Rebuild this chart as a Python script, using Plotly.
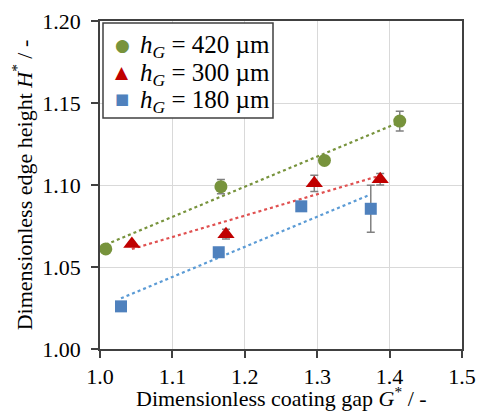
import numpy as np
import plotly.graph_objects as go

# data
g420 = [1.008, 1.167, 1.310, 1.414]
h420 = [1.061, 1.099, 1.115, 1.139]
e420 = [0.001, 0.0043, 0.002, 0.006]

g300 = [1.044, 1.174, 1.296, 1.387]
h300 = [1.064, 1.070, 1.101, 1.1035]
e300 = [0.001, 0.003, 0.005, 0.0035]

g180 = [1.029, 1.164, 1.278, 1.374]
h180 = [1.026, 1.059, 1.087, 1.0855]
e180 = [0.002, 0.002, 0.002, 0.0143]

names = ["<i>h</i><sub><i>G</i></sub> = 420 µm",
         "<i>h</i><sub><i>G</i></sub> = 300 µm",
         "<i>h</i><sub><i>G</i></sub> = 180 µm"]

FONT = "Liberation Serif"
series = [
    (g420, h420, e420, "#77933C", "circle", 13, "#77933C"),
    (g300, h300, e300, "#C00000", "triangle-up", 15, "#E05050"),
    (g180, h180, e180, "#4F81BD", "square", 12, "#5B9BD5"),
]
glyphs = [("●", 17), ("▲", 17), ("■", 15)]

fig = go.Figure()
for (gx, hy, ee, col, sym, sz, lcol) in series:
    p = np.polyfit(gx, hy, 1)
    xs = np.array([min(gx), max(gx)])
    fig.add_trace(go.Scatter(x=xs, y=np.polyval(p, xs), mode="lines",
                             line=dict(color=lcol, width=2.2, dash="dot"),
                             showlegend=False, hoverinfo="skip"))
for (gx, hy, ee, col, sym, sz, lcol), nm in zip(series, names):
    fig.add_trace(go.Scatter(x=gx, y=hy, mode="markers", name=nm,
                             marker=dict(color=col, symbol=sym, size=sz),
                             error_y=dict(type="data", array=ee, color="#808080",
                                          thickness=1.5, width=4),
                             showlegend=False))

tf = dict(family=FONT, size=22, color="#000000")
fig.update_layout(
    width=478, height=412,
    margin=dict(l=100, r=16, t=21, b=63),
    paper_bgcolor="white", plot_bgcolor="white",
    font=tf,
    showlegend=False,
    xaxis=dict(range=[1.0, 1.5], tickvals=[1.0, 1.1, 1.2, 1.3, 1.4, 1.5],
               ticktext=["1.0", "1.1", "1.2", "1.3", "1.4", "1.5"],
               tickfont=tf, automargin=False,
               showgrid=True, gridcolor="#D9D9D9", gridwidth=1,
               showline=True, linecolor="#404040", linewidth=1.5, mirror=True,
               ticks="outside", ticklen=7, tickcolor="#404040", tickwidth=1.5,
               zeroline=False),
    yaxis=dict(range=[1.0, 1.2], tickvals=[1.0, 1.05, 1.10, 1.15, 1.20],
               ticktext=["1.00", "1.05", "1.10", "1.15", "1.20"],
               tickfont=tf, automargin=False,
               showgrid=True, gridcolor="#D9D9D9", gridwidth=1,
               showline=True, linecolor="#404040", linewidth=1.5, mirror=True,
               ticks="outside", ticklen=7, tickcolor="#404040", tickwidth=1.5,
               zeroline=False, ticklabelstandoff=6,
               title=dict(text="Dimensionless edge height <i>H</i><sup>*</sup> / -",
                          font=dict(family=FONT, size=22, color="#000000"), standoff=4)),
)

# paper coords of plot area
W, H = 362.0, 328.0
def px(x):
    return (x - 100) / W
def py(y):
    return 1 - (y - 21) / H

# x-axis title
fig.add_annotation(x=0.5, y=py(397), xref="paper", yref="paper",
                   text="Dimensionless coating gap <i>G</i><sup>*</sup> / -",
                   showarrow=False, xanchor="center", yanchor="middle",
                   font=dict(family=FONT, size=22, color="#000000"))

# legend box
fig.add_shape(type="rect", xref="paper", yref="paper",
              x0=px(103), x1=px(273), y0=py(118), y1=py(23),
              line=dict(color="#404040", width=1.5), fillcolor="white", layer="above")
rows = [43, 70, 97]
for (s, nm, (gl, gsz), yy) in zip(series, names, glyphs, rows):
    fig.add_annotation(x=px(122), y=py(yy + 2), xref="paper", yref="paper",
                       text=gl, showarrow=False, xanchor="center", yanchor="middle",
                       font=dict(family="DejaVu Sans", size=gsz, color=s[3]))
    fig.add_annotation(x=px(138), y=py(yy + 4), xref="paper", yref="paper",
                       text=nm, showarrow=False, xanchor="left", yanchor="middle",
                       font=dict(family=FONT, size=25, color="#000000"))

fig.write_html("out.html")
